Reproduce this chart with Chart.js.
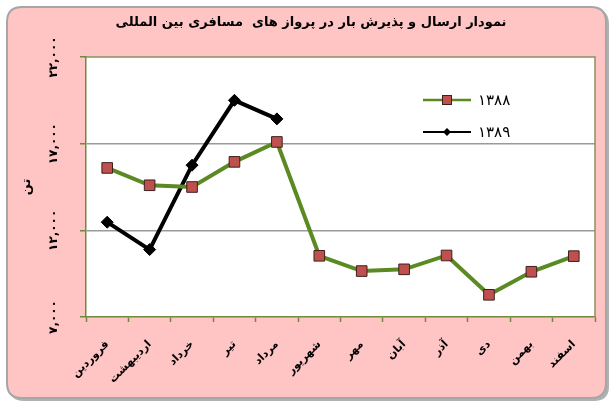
<!DOCTYPE html>
<html>
<head>
<meta charset="utf-8">
<script src="https://cdn.jsdelivr.net/npm/chart.js@4/dist/chart.umd.min.js"></script>
<style>
  html, body { margin: 0; padding: 0; background: #ffffff; }
  #wrap { width: 612px; height: 403px; }
</style>
</head>
<body>
<div id="wrap"><canvas id="c" width="612" height="403"></canvas></div>
<script>
const titleText = 'نمودار ارسال و پذیرش بار در پرواز های  مسافری بین المللی';
const yTitle = 'تن';
const months = ['فروردین','اردیبهشت','خرداد','تیر','مرداد','شهریور','مهر','آبان','آذر','دی','بهمن','اسفند'];
const seriesNames = ['۱۳۸۸', '۱۳۸۹'];
const values1388 = [15600, 14600, 14500, 15950, 17100, 10530, 9650, 9750, 10550, 8280, 9610, 10510];
const values1389 = [12470, 10890, 15760, 19500, 18430, null, null, null, null, null, null, null];
const yMin = 7000, yMax = 22000, yStep = 5000;

const FONT = "'DejaVu Sans', sans-serif";
const AXIS = '#6f8a3c';
const GREEN = '#5b8a23';
const RED = '#c0504d';

function toPersian(n) {
  const s = Number(n).toLocaleString('en-US');
  return s.replace(/[0-9]/g, d => '۰۱۲۳۴۵۶۷۸۹'[+d]);
}

const framePlugin = {
  id: 'frame',
  beforeDraw(chart) {
    const ctx = chart.ctx;
    ctx.save();
    ctx.fillStyle = '#ffffff';
    ctx.fillRect(0, 0, chart.width, chart.height);
    const r = 15;
    function rr(x, y, w, h) {
      ctx.beginPath();
      ctx.moveTo(x + r, y);
      ctx.lineTo(x + w - r, y);
      ctx.quadraticCurveTo(x + w, y, x + w, y + r);
      ctx.lineTo(x + w, y + h - r);
      ctx.quadraticCurveTo(x + w, y + h, x + w - r, y + h);
      ctx.lineTo(x + r, y + h);
      ctx.quadraticCurveTo(x, y + h, x, y + h - r);
      ctx.lineTo(x, y + r);
      ctx.quadraticCurveTo(x, y, x + r, y);
      ctx.closePath();
    }
    rr(9, 9, 600, 392);
    ctx.fillStyle = '#b0b0b0';
    ctx.fill();
    rr(7, 7, 599, 391);
    ctx.fillStyle = '#ffc4c4';
    ctx.fill();
    ctx.lineWidth = 2;
    ctx.strokeStyle = '#a6a6a6';
    ctx.stroke();
    const a = chart.chartArea;
    ctx.fillStyle = '#ffffff';
    ctx.fillRect(a.left, a.top, a.right - a.left, a.bottom - a.top);
    ctx.restore();
  },
  afterDatasetsDraw(chart) {
    const ctx = chart.ctx;
    const a = chart.chartArea;
    ctx.save();
    ctx.strokeStyle = '#8e8f5e';
    ctx.lineWidth = 1.5;
    ctx.beginPath();
    ctx.moveTo(a.left, a.top);
    ctx.lineTo(a.right, a.top);
    ctx.lineTo(a.right, a.bottom);
    ctx.stroke();
    // title
    ctx.fillStyle = '#000000';
    ctx.font = 'bold 13px ' + FONT;
    ctx.textAlign = 'center';
    ctx.textBaseline = 'middle';
    ctx.fillText(titleText, 311, 23);
    // legend
    const rows = [100, 132];
    chart.data.datasets.forEach((ds, i) => {
      const y = rows[i];
      ctx.strokeStyle = ds.borderColor;
      ctx.lineWidth = i === 0 ? 2.5 : 2;
      ctx.beginPath();
      ctx.moveTo(423, y);
      ctx.lineTo(471, y);
      ctx.stroke();
      if (i === 0) {
        ctx.fillStyle = ds.pointBackgroundColor;
        ctx.strokeStyle = ds.pointBorderColor;
        ctx.lineWidth = 1;
        ctx.fillRect(442.5, y - 4.5, 9, 9);
        ctx.strokeRect(442.5, y - 4.5, 9, 9);
      } else {
        ctx.fillStyle = '#000';
        ctx.beginPath();
        ctx.moveTo(447, y - 4); ctx.lineTo(451, y); ctx.lineTo(447, y + 4); ctx.lineTo(443, y);
        ctx.closePath(); ctx.fill();
      }
      ctx.fillStyle = '#000';
      ctx.font = '15px ' + FONT;
      ctx.textAlign = 'left';
      ctx.textBaseline = 'middle';
      ctx.fillText(ds.label, 478, y + 1);
    });
    ctx.restore();
  }
};

new Chart(document.getElementById('c'), {
  type: 'line',
  data: {
    labels: months,
    datasets: [
      {
        label: seriesNames[0],
        data: values1388,
        borderColor: GREEN,
        borderWidth: 4,
        pointStyle: 'rect',
        pointRadius: 7.5,
        pointBackgroundColor: RED,
        pointBorderColor: '#3b2020',
        pointBorderWidth: 1,
        tension: 0
      },
      {
        label: seriesNames[1],
        data: values1389,
        borderColor: '#000000',
        borderWidth: 4,
        pointStyle: 'rectRot',
        pointRadius: 6,
        pointBackgroundColor: '#000000',
        pointBorderColor: '#000000',
        pointBorderWidth: 1,
        tension: 0,
        spanGaps: false
      }
    ]
  },
  options: {
    responsive: false,
    animation: false,
    devicePixelRatio: 1,
    layout: { padding: { left: 0, right: 17, top: 57, bottom: 0 } },
    plugins: {
      legend: { display: false },
      title: { display: false },
      tooltip: { enabled: false }
    },
    scales: {
      x: {
        type: 'category',
        offset: true,
        grid: { offset: true, drawOnChartArea: false, tickLength: 5, tickColor: AXIS, tickWidth: 1.5 },
        border: { color: AXIS, width: 1.5 },
        ticks: {
          minRotation: 45, maxRotation: 45, autoSkip: false,
          padding: 16,
          color: '#000',
          font: { family: FONT, size: 11, weight: 'bold' }
        },
        afterFit(scale) { scale.height = 86; }
      },
      y: {
        min: yMin, max: yMax,
        ticks: {
          stepSize: yStep,
          minRotation: 90, maxRotation: 90,
          crossAlign: 'center',
          padding: 6,
          color: '#000',
          font: { family: FONT, size: 12, weight: 'bold' },
          callback: (v) => toPersian(v)
        },
        grid: {
          tickLength: 6,
          tickColor: AXIS,
          tickWidth: 1.5,
          color: (c) => (c.tick && (c.tick.value === yMin || c.tick.value === yMax)) ? 'rgba(0,0,0,0)' : '#9a9a9a',
          lineWidth: 1.5
        },
        border: { color: AXIS, width: 1.5 },
        title: {
          display: true,
          text: yTitle,
          color: '#000',
          font: { family: FONT, size: 13, weight: 'bold' },
          padding: { top: 19, bottom: 0 }
        },
        afterFit(scale) { scale.width = 86; }
      }
    }
  },
  plugins: [framePlugin]
});
</script>
</body>
</html>
